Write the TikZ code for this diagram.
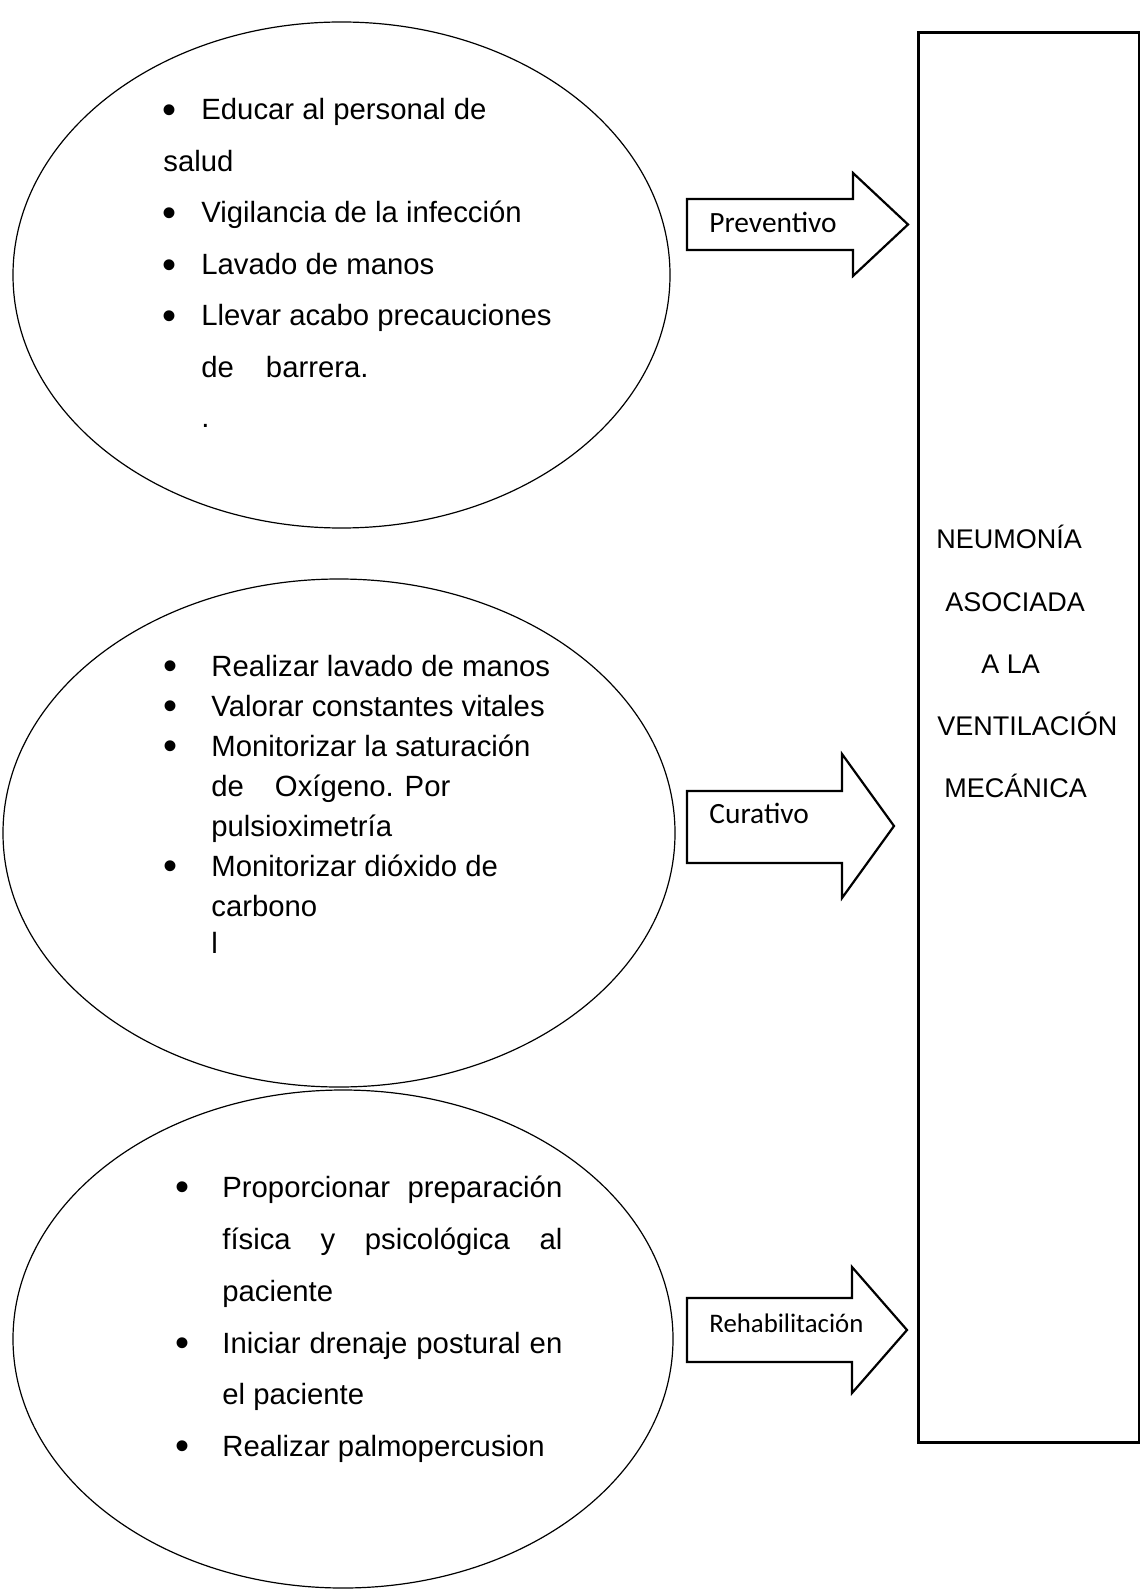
\documentclass[tikz,border=0pt]{standalone}
\usepackage{fontspec}
\setmainfont{Liberation Sans}
\newfontfamily\calibri{Carlito}
\usetikzlibrary{shapes.geometric}
\newcommand{\bul}[1]{\llap{\raisebox{-1.8pt}{\fontsize{20}{20}\selectfont\textbullet}\hspace{#1}}}
\begin{document}
\begin{tikzpicture}[x=0.5pt, y=-0.5pt,
  bubble/.style = {shape=ellipse, draw, line width=0.6pt, inner sep=0pt},
  item/.style = {anchor=base west, inner sep=0pt,
    font=\fontsize{14.65}{17}\selectfont},
  head/.style = {anchor=base west, inner sep=0pt,
    font=\fontsize{13.5}{15}\selectfont},
  tag/.style = {anchor=base west, inner sep=0pt,
    font=\calibri\fontsize{14.7}{17}\selectfont},
  blockarrow/.style = {draw, line width=1.1pt},
  mainbox/.style = {draw, line width=1.3pt, inner sep=0pt}]
  \useasboundingbox (0,0) rectangle (1139,1593);
  \node[bubble, minimum width=328.5pt, minimum height=253pt] (prev) at (341.5,275) {};
  \node[bubble, minimum width=336pt, minimum height=254pt] (cura) at (339,833) {};
  \node[bubble, minimum width=330pt, minimum height=249pt] (reha) at (343,1339) {};
  \node[mainbox, anchor=north west, minimum width=110.25pt, minimum height=704.75pt] (nav) at (917,31.5) {};
  \foreach \x/\y/\t [count=\i] in {201/120/{\bul{12.5pt}Educar al personal de},
      163/171.5/salud,
      201/223/{\bul{12.5pt}Vigilancia de la infección},
      201/274.5/{\bul{12.5pt}Lavado de manos},
      201/326/{\bul{12.5pt}Llevar acabo precauciones},
      201/377.5/{de\hspace{16pt}barrera.},
      201/428/.}
    \node[item] (a\i) at (\x,\y) {\t};
  \foreach \y/\t [count=\i] in {676/{\bul{17pt}Realizar lavado de manos},
      716/{\bul{17pt}Valorar constantes vitales},
      756/{\bul{17pt}Monitorizar la saturación},
      796/{de\hspace{15.5pt}Oxígeno. Por},
      836/pulsioximetría,
      876/{\bul{17pt}Monitorizar dióxido de},
      916/carbono,
      953/l}
    \node[item] (b\i) at (211,\y) {\t};
  \foreach \y/\t [count=\i] in {1197/{\bul{16.5pt}\makebox[170pt][s]{Proporcionar preparación}},
      1249/{\makebox[170pt][s]{física y psicológica al}},
      1301/paciente,
      1353/{\bul{16.5pt}\makebox[170pt][s]{Iniciar drenaje postural en}},
      1404/el paciente,
      1456/{\bul{16.5pt}Realizar palmopercusion}}
    \node[item] (c\i) at (222,\y) {\t};
  \foreach \x/\y/\t [count=\i] in {936/548/NEUMONÍA, 945/611/ASOCIADA,
      981/673/A LA, 937/735/VENTILACIÓN, 944/797/MECÁNICA}
    \node[head] (n\i) at (\x,\y) {\t};
  \draw[blockarrow] (687,199) -- (853,199) -- (853,173) -- (908,224.5)
    -- (853,276) -- (853,250) -- (687,250) -- cycle;
  \draw[blockarrow] (687,791) -- (842,791) -- (842,754) -- (894,826)
    -- (842,898) -- (842,863) -- (687,863) -- cycle;
  \draw[blockarrow] (687,1298) -- (852,1298) -- (852,1267) -- (907,1330)
    -- (852,1393) -- (852,1362) -- (687,1362) -- cycle;
  \node[tag] (lprev) at (709,232.5) {Preventivo};
  \node[tag] (lcura) at (709,823) {Curativo};
  \node[tag, font=\calibri\fontsize{13.4}{16}\selectfont] (lreha) at (709,1332) {Rehabilitación};
\end{tikzpicture}
\end{document}
